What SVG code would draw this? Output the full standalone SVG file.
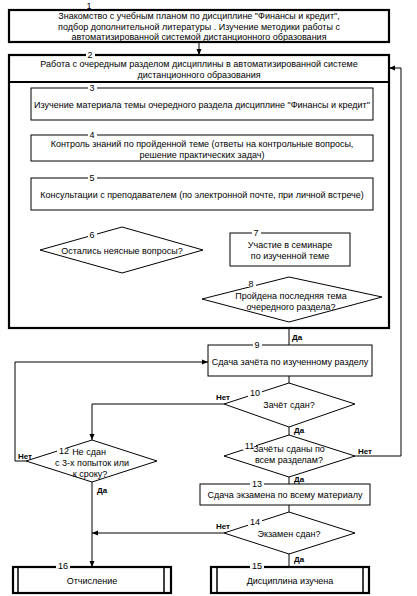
<svg xmlns="http://www.w3.org/2000/svg" width="417" height="596" viewBox="0 0 417 596">
<defs>
<marker id="arr" viewBox="0 0 6 6" refX="6" refY="3" markerWidth="6" markerHeight="6" orient="auto" markerUnits="userSpaceOnUse"><path d="M0,0.5 L6,3 L0,5.5 z" fill="#000"/></marker>
<style>
text{font-family:"Liberation Sans",Arial,sans-serif;font-size:9px;fill:#000;text-anchor:middle}
.lbl{font-size:8px;font-weight:bold;text-anchor:start}
.num{font-size:9px}
.thin{fill:#fff;stroke:#000;stroke-width:1}
.thick{fill:#fff;stroke:#000;stroke-width:2.2}
.gap{fill:#fff;stroke:none}
#connectors polyline,#connectors line{fill:none;stroke:#000;stroke-width:1}
</style>
</defs>
<rect width="417" height="596" fill="#fff"/>

<g id="connectors">
<line x1="199" y1="43" x2="199" y2="55" marker-end="url(#arr)"/>
<line x1="202" y1="120" x2="202" y2="135" marker-end="url(#arr)"/>
<line x1="202" y1="161" x2="202" y2="178" marker-end="url(#arr)"/>
<line x1="122" y1="210" x2="122" y2="227" marker-end="url(#arr)"/>
<polyline points="40,250 15,250 15,194 31,194" marker-end="url(#arr)"/>
<line x1="203" y1="250" x2="230" y2="250" marker-end="url(#arr)"/>
<line x1="289" y1="266" x2="289" y2="277" marker-end="url(#arr)"/>
<polyline points="382,297 382,104 373,104" marker-end="url(#arr)"/>
<line x1="289" y1="322" x2="289" y2="345"/>
<line x1="289" y1="376" x2="289" y2="383"/>
<polyline points="224,404 92,404 92,440" marker-end="url(#arr)"/>
<line x1="289" y1="427" x2="289" y2="435"/>
<polyline points="355,456 401,456 401,68 389,68" marker-end="url(#arr)"/>
<line x1="289" y1="477" x2="289" y2="484"/>
<polyline points="26,461 15,461 15,362 208,362" marker-end="url(#arr)"/>
<line x1="92" y1="482" x2="92" y2="567" marker-end="url(#arr)"/>
<line x1="289" y1="505" x2="289" y2="512"/>
<line x1="224" y1="533" x2="92" y2="533" marker-end="url(#arr)"/>
<line x1="289" y1="554" x2="289" y2="567"/>
<text class="lbl" x="29" y="248">Да</text>
<text class="lbl" x="212" y="247">Нет</text>
<text class="lbl" x="364" y="293">Нет</text>
<text class="lbl" x="292" y="340">Да</text>
<text class="lbl" x="216" y="400">Нет</text>
<text class="lbl" x="294" y="433">Да</text>
<text class="lbl" x="358" y="454">Нет</text>
<text class="lbl" x="294" y="482">Да</text>
<text class="lbl" x="18" y="459">Нет</text>
<text class="lbl" x="97" y="493">Да</text>
<text class="lbl" x="216" y="529">Нет</text>
<text class="lbl" x="294" y="562">Да</text>
</g>

<g id="node1">
<rect class="thick" x="9" y="10" width="380" height="32"/>
<rect class="gap" x="85" y="3" width="9" height="6"/>
<text class="num" x="89" y="9">1</text>
<text x="199" y="19">Знакомство  с учебным планом по дисциплине "Финансы и кредит",</text>
<text x="199" y="29.5">подбор дополнительной литературы . Изучение методики работы с</text>
<text x="199" y="40">автоматизированной системой  дистанционного образования</text>
</g>

<g id="node2">
<rect class="thick" x="9" y="55" width="380" height="273"/>
<line x1="9" y1="82" x2="389" y2="82" stroke="#000" stroke-width="2"/>
<rect class="gap" x="86" y="53" width="9" height="4"/>
<text class="num" x="90" y="57.5">2</text>
<text x="199" y="67">Работа с очередным разделом дисциплины  в автоматизированной  системе</text>
<text x="199" y="78">дистанционного образования</text>
</g>

<g id="node3">
<rect class="thin" x="31" y="88" width="342" height="32"/>
<rect class="gap" x="88" y="86" width="9" height="4"/>
<text class="num" x="92" y="90.5">3</text>
<text x="202" y="107.5">Изучение материала темы очередного раздела дисциплине "Финансы и кредит"</text>
</g>

<g id="node4">
<rect class="thin" x="31" y="135" width="342" height="26"/>
<rect class="gap" x="88" y="133" width="9" height="4"/>
<text class="num" x="92" y="137.5">4</text>
<text x="202" y="147">Контроль знаний по пройденной теме  (ответы на контрольные вопросы,</text>
<text x="202" y="157.5">решение практических задач)</text>
</g>

<g id="node5">
<rect class="thin" x="31" y="178" width="342" height="32"/>
<rect class="gap" x="88" y="176" width="9" height="4"/>
<text class="num" x="92" y="180.5">5</text>
<text x="202" y="197.5">Консультации с преподавателем (по электронной почте, при личной встрече)</text>
</g>

<g id="node6">
<polygon class="thin" points="122,227 203,250 122,273 40,250"/>
<rect class="gap" x="88" y="232" width="9" height="6"/>
<text class="num" x="92" y="238">6</text>
<text x="122" y="253.5">Остались неясные вопросы?</text>
</g>

<g id="node7">
<rect class="thin" x="230" y="233" width="120" height="33"/>
<rect class="gap" x="252" y="231" width="9" height="4"/>
<text class="num" x="256" y="235.5">7</text>
<text x="290" y="247.5">Участие  в семинаре</text>
<text x="290" y="258.5">по изученной теме</text>
</g>

<g id="node8">
<polygon class="thin" points="289,277 382,297 289,322 202,299"/>
<rect class="gap" x="247" y="281" width="9" height="6"/>
<text class="num" x="251" y="287">8</text>
<text x="291" y="298.5">Пройдена последняя тема</text>
<text x="291" y="309.5">очередного раздела?</text>
</g>

<g id="node9">
<rect class="thin" x="208" y="345" width="164" height="31"/>
<rect class="gap" x="253" y="343" width="9" height="4"/>
<text class="num" x="257" y="347.5">9</text>
<text x="290" y="364.5">Сдача зачёта по изученному разделу</text>
</g>

<g id="node10">
<polygon class="thin" points="289,383 355,404 289,427 224,404"/>
<rect class="gap" x="248" y="390" width="14" height="7"/>
<text class="num" x="255" y="396">10</text>
<text x="289" y="408">Зачёт сдан?</text>
</g>

<g id="node11">
<polygon class="thin" points="289,435 355,456 289,477 224,456"/>
<rect class="gap" x="243" y="443" width="13" height="7"/>
<text class="num" x="249.5" y="449">11</text>
<text x="289" y="451.5">Зачёты сданы по</text>
<text x="289" y="463">всем разделам?</text>
</g>

<g id="node12">
<polygon class="thin" points="92,440 157,461 92,482 26,461"/>
<rect class="gap" x="57" y="448" width="14" height="7"/>
<text class="num" x="64" y="454">12</text>
<text x="89" y="454.5">Не сдан</text>
<text x="92" y="466">с 3-х попыток или</text>
<text x="90" y="477">к сроку?</text>
</g>

<g id="node13">
<rect class="thin" x="200" y="484" width="170" height="21"/>
<rect class="gap" x="250" y="482" width="14" height="4"/>
<text class="num" x="257" y="486.5">13</text>
<text x="285" y="498">Сдача экзамена по всему материалу</text>
</g>

<g id="node14">
<polygon class="thin" points="289,512 355,533 289,554 224,533"/>
<rect class="gap" x="248" y="519" width="14" height="7"/>
<text class="num" x="255" y="525">14</text>
<text x="289" y="536.5">Экзамен сдан?</text>
</g>

<g id="node16">
<rect class="thick" x="13" y="567" width="158" height="26"/>
<line x1="18" y1="567" x2="18" y2="593" stroke="#000" stroke-width="1.5"/>
<line x1="164" y1="567" x2="164" y2="593" stroke="#000" stroke-width="1.5"/>
<rect class="gap" x="56" y="564" width="14" height="4"/>
<text class="num" x="63" y="568.5">16</text>
<text x="92" y="583.5">Отчисление</text>
</g>

<g id="node15">
<rect class="thick" x="211" y="567" width="158" height="26"/>
<line x1="217" y1="567" x2="217" y2="593" stroke="#000" stroke-width="1.5"/>
<line x1="363" y1="567" x2="363" y2="593" stroke="#000" stroke-width="1.5"/>
<rect class="gap" x="250" y="564" width="14" height="4"/>
<text class="num" x="257" y="568.5">15</text>
<text x="290" y="583.5">Дисциплина изучена</text>
</g>
</svg>
